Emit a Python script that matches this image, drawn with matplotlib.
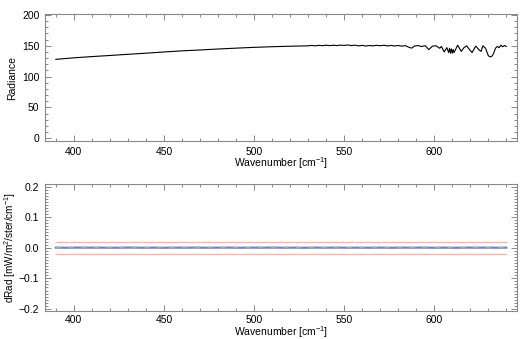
import numpy as np
import matplotlib
matplotlib.use("Agg")
import matplotlib.pyplot as plt
from matplotlib.ticker import MultipleLocator

# Radiance spectrum
wavenumber = [390, 400, 410, 420, 430, 440, 450, 460, 470, 480, 490, 500, 510, 520, 528,
              530, 532, 534, 536, 538, 540, 542, 544, 546, 548, 550, 552, 554, 556, 558,
              560, 562, 564, 566, 568, 570, 572, 574, 576, 578, 580, 582, 584, 586, 587.5,
              589, 591, 593, 595, 597, 599, 601, 603, 604, 605.5, 607, 608, 608.5, 609,
              609.5, 610, 610.5, 611, 612, 613, 615, 616.5, 618, 619.5, 621, 623, 625,
              626, 627, 628.5, 630, 631, 632, 633, 634, 635, 636, 637, 638, 639, 640]
radiance = [128.0, 130.5, 132.5, 134.3, 136.2, 138.0, 140.0, 141.8, 143.2, 144.8, 146.2, 147.5, 148.5, 149.3, 149.8,
            150.0, 150.6, 149.9, 150.8, 150.2, 151.0, 150.3, 150.9, 150.4, 151.1, 150.6, 151.3, 150.4, 151.0, 149.9,
            150.7, 149.6, 150.5, 149.9, 150.8, 150.1, 150.9, 149.8, 150.6, 149.7, 150.5, 149.4, 150.3, 147.5, 146.2,
            149.6, 150.4, 148.8, 150.2, 143.8, 149.4, 150.1, 146.0, 149.0, 140.0, 147.0, 139.0, 146.0, 138.0,
            145.0, 138.0, 144.0, 139.0, 145.0, 151.0, 141.0, 147.0, 150.0, 144.0, 139.0, 149.5, 143.0,
            141.0, 150.0, 146.0, 134.0, 132.0, 133.0, 138.0, 146.0, 149.0, 147.0, 151.0, 148.5, 150.5, 149.0]

# Radiance differences (bottom panel), all close to zero
diff_wn = [390, 396, 402, 408, 414, 420, 426, 432, 438, 444, 450, 456, 462, 468, 474,
           480, 486, 492, 498, 504, 510, 516, 522, 528, 534, 540, 546, 552, 558, 564,
           570, 576, 582, 588, 594, 600, 606, 612, 618, 624, 630, 636, 640]
diff_blue = [0.0002, -0.0003, 0.0003, -0.0001, 0.0002, -0.0003, 0.0001, 0.0003, -0.0002, 0.0001, -0.0003, 0.0002, -0.0001, 0.0003, -0.0002,
             0.0001, 0.0002, -0.0003, 0.0002, -0.0001, 0.0003, -0.0002, 0.0001, -0.0003, 0.0002, -0.0001, 0.0003, -0.0002, 0.0001, -0.0002,
             0.0002, -0.0003, 0.0002, -0.0001, 0.0003, -0.0002, 0.0001, -0.0003, 0.0003, -0.0001, 0.0002, -0.0002, 0.0001]
diff_grey = [-0.0001, 0.0002, -0.0003, 0.0001, -0.0001, 0.0002, -0.0002, 0.0001, 0.0003, -0.0002, 0.0001, -0.0003, 0.0002, -0.0001, 0.0002,
             -0.0003, 0.0001, 0.0002, -0.0002, 0.0003, -0.0001, 0.0002, -0.0002, 0.0001, -0.0002, 0.0003, -0.0001, 0.0002, -0.0003, 0.0002,
             -0.0001, 0.0001, -0.0002, 0.0003, -0.0002, 0.0001, -0.0002, 0.0002, -0.0001, 0.0002, -0.0003, 0.0001, -0.0001]

# Noise limits
limit_wn = [390, 640]
limit_val = 0.02

plt.rcParams['font.family'] = ['Liberation Sans', 'DejaVu Sans']
plt.rcParams['font.size'] = 7.5
plt.rcParams['mathtext.fontset'] = 'custom'
plt.rcParams['mathtext.rm'] = 'Liberation Sans'
plt.rcParams['mathtext.it'] = 'Liberation Sans'

axis_grey = '#888888'

fig = plt.figure(figsize=(5.25, 3.39), dpi=100)
ax1 = fig.add_axes([0.0857, 0.584, 0.8993, 0.3747])
ax2 = fig.add_axes([0.0857, 0.0826, 0.8993, 0.3744])


def style_axis(ax, pad, tickpad):
    for s in ax.spines.values():
        s.set_color(axis_grey)
        s.set_linewidth(0.8)
    ax.tick_params(which='both', direction='in', top=True, right=True,
                   color=axis_grey, width=0.7, labelsize=7.5, pad=4)
    ax.tick_params(axis='x', which='both', pad=tickpad)
    ax.tick_params(which='major', length=4)
    ax.tick_params(which='minor', length=2.5)
    ax.set_xlim(384, 646)
    ax.xaxis.set_major_locator(MultipleLocator(50))
    ax.xaxis.set_minor_locator(MultipleLocator(10))
    ax.set_xlabel('Wavenumber [cm$^{-1}$]', labelpad=pad)
    ax.yaxis.set_label_coords(-0.058, 0.5)


# Top: radiance
ax1.plot(wavenumber, radiance, color='black', lw=0.8)
ax1.set_ylim(-4.5, 201.6)
ax1.yaxis.set_major_locator(MultipleLocator(50))
ax1.yaxis.set_minor_locator(MultipleLocator(10))
ax1.set_ylabel('Radiance')
style_axis(ax1, -1, 4)

# Bottom: differences with +/- limits
ax2.plot(limit_wn, [limit_val, limit_val], color='#ffb3aa', lw=1.0)
ax2.plot(limit_wn, [-limit_val, -limit_val], color='#ffb3aa', lw=1.0)
ax2.plot(diff_wn, diff_blue, color='#6a88c8', lw=1.6)
ax2.plot(diff_wn, diff_grey, color='#a8a8a8', lw=1.3, ls=(0, (3, 4)))
ax2.set_ylim(-0.207, 0.208)
ax2.yaxis.set_major_locator(MultipleLocator(0.1))
ax2.yaxis.set_minor_locator(MultipleLocator(0.01))
ax2.set_ylabel('dRad [mW/m$^2$/ster/cm$^{-1}$]', fontsize=7.2)
style_axis(ax2, -1, 3)

fig.savefig('out.png', dpi=100)
